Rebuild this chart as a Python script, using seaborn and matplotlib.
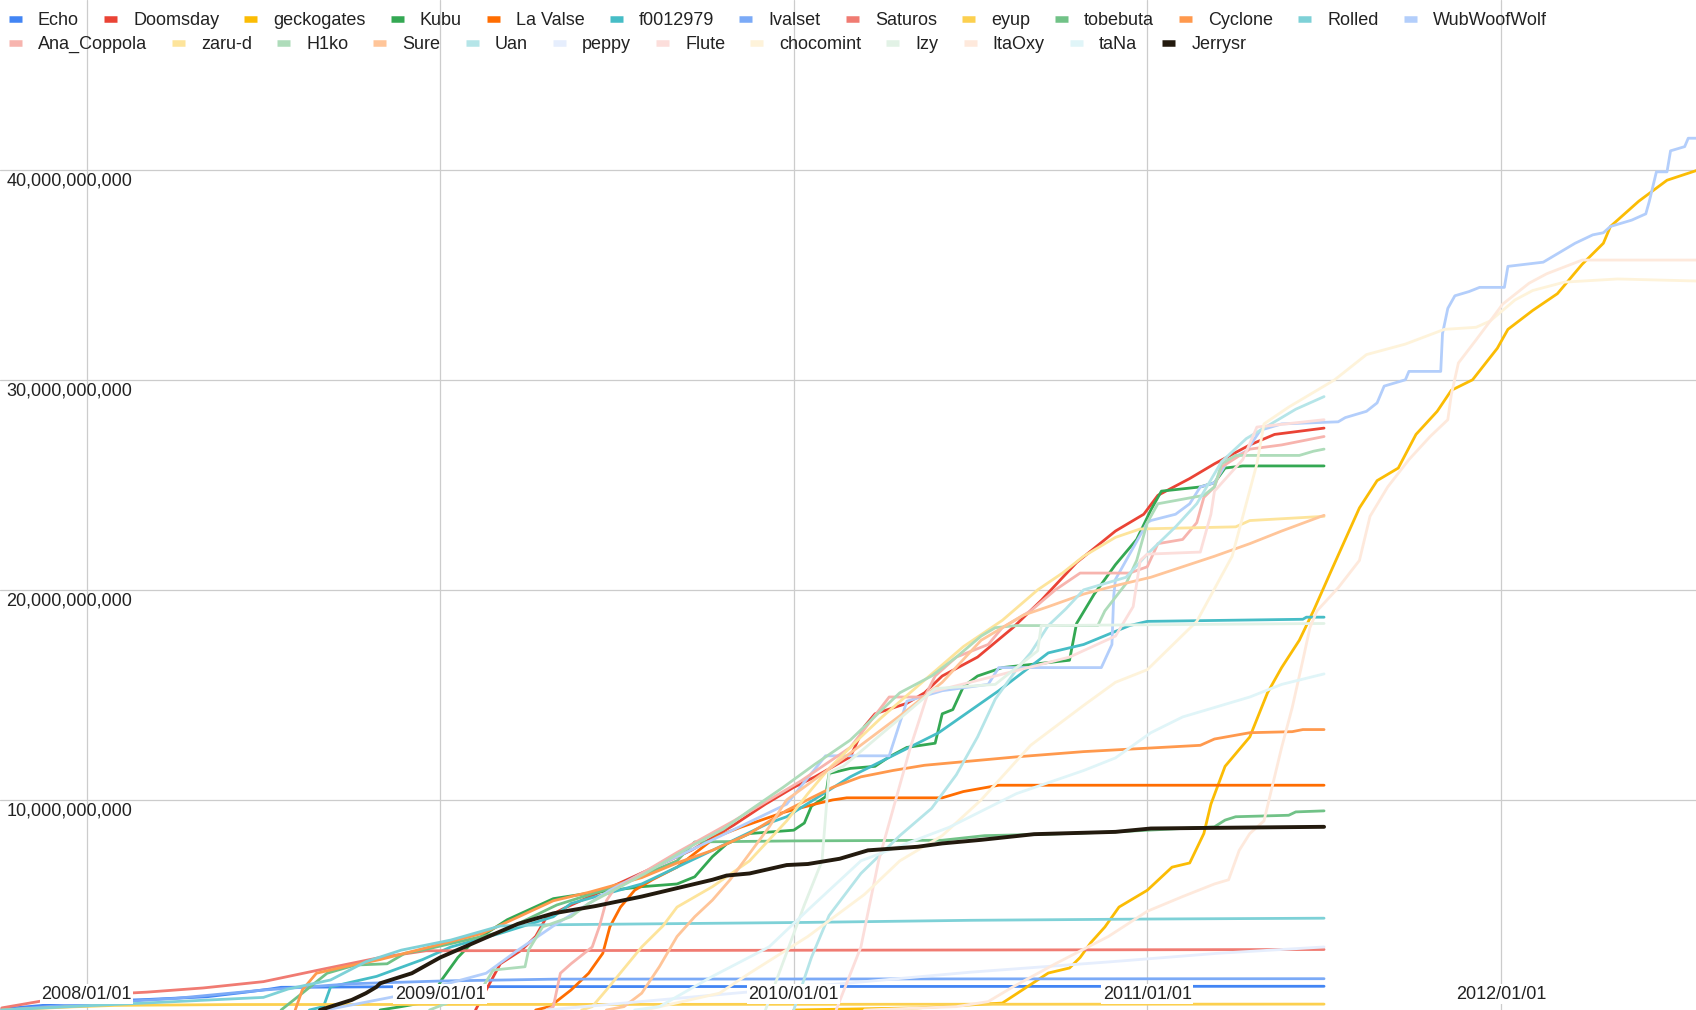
import numpy as np
import pandas as pd
import matplotlib
matplotlib.use("Agg")
import matplotlib.pyplot as plt
import seaborn as sns
from matplotlib.lines import Line2D

# ---------------- data (x = decimal year, y = value in billions) ----------------
names = ["Echo", "Doomsday", "geckogates", "Kubu", "La Valse", "f0012979", "Ivalset",
         "Saturos", "eyup", "tobebuta", "Cyclone", "Rolled", "WubWoofWolf",
         "Ana_Coppola", "zaru-d", "H1ko", "Sure", "Uan", "peppy", "Flute", "chocomint",
         "Izy", "ItaOxy", "taNa", "Jerrysr"]

colors = ["#4285F4", "#EA4335", "#FBBC04", "#34A853", "#FF6D01", "#46BDC6", "#7BAAF7",
          "#F07B72", "#FCD04F", "#71C287", "#FF994D", "#7ED1D7", "#B3CEFB",
          "#F7B4AE", "#FDE49B", "#AEDCBA", "#FFC599", "#B5E5E8", "#E6EEFD", "#FCDEDB",
          "#FEF3DA", "#E2F2E6", "#FEE9DC", "#E0F5F8", "#231A0E"]

echo = [(2007.76, 0.05), (2008.0, 0.4), (2008.17, 0.5), (2008.34, 0.63), (2008.45, 0.85),
        (2008.52, 1.0), (2008.55, 1.08), (2008.9, 1.11), (2011.5, 1.13)]
doomsday = [(2009.10, 0.0), (2009.13, 0.95), (2009.17, 2.2), (2009.23, 2.85), (2009.27, 3.5),
            (2009.30, 4.4), (2009.35, 4.84), (2009.45, 5.6), (2009.58, 6.6), (2009.71, 7.6),
            (2009.83, 8.8), (2009.92, 9.8), (2010.0, 10.6), (2010.06, 11.1), (2010.16, 12.05),
            (2010.20, 13.5), (2010.23, 14.1), (2010.32, 14.6), (2010.37, 15.1), (2010.42, 15.9),
            (2010.52, 16.8), (2010.62, 18.2), (2010.70, 19.5), (2010.80, 21.3), (2010.91, 22.8),
            (2010.99, 23.6), (2011.03, 24.5), (2011.12, 25.3), (2011.19, 26.0), (2011.29, 26.9),
            (2011.36, 27.4), (2011.5, 27.7)]
geckogates = [(2010.0, 0.0), (2010.35, 0.1), (2010.59, 0.33), (2010.66, 1.1), (2010.72, 1.76),
              (2010.78, 2.0), (2010.81, 2.5), (2010.84, 3.2), (2010.88, 3.95), (2010.92, 4.9),
              (2011.0, 5.7), (2011.07, 6.8), (2011.12, 7.0), (2011.16, 8.4), (2011.18, 9.8),
              (2011.22, 11.6), (2011.29, 13.0), (2011.34, 15.1), (2011.38, 16.3), (2011.43, 17.6),
              (2011.47, 19.0), (2011.52, 20.9), (2011.60, 23.9), (2011.65, 25.2), (2011.71, 25.8),
              (2011.76, 27.4), (2011.82, 28.5), (2011.86, 29.5), (2011.92, 30.0), (2011.99, 31.5),
              (2012.02, 32.4), (2012.09, 33.3), (2012.16, 34.1), (2012.23, 35.5), (2012.29, 36.5),
              (2012.31, 37.3), (2012.39, 38.5), (2012.47, 39.5), (2012.56, 40.0)]
kubu = [(2008.83, 0.0), (2008.89, 0.16), (2008.97, 0.4), (2009.004, 1.43), (2009.05, 2.5),
        (2009.09, 3.2), (2009.13, 3.65), (2009.19, 4.3), (2009.32, 5.3), (2009.42, 5.56),
        (2009.57, 5.87), (2009.67, 6.0), (2009.72, 6.34), (2009.77, 7.3), (2009.81, 7.9),
        (2009.875, 8.4), (2010.0, 8.56), (2010.03, 8.9), (2010.05, 9.7), (2010.09, 10.15),
        (2010.10, 11.26), (2010.16, 11.5), (2010.23, 11.6), (2010.27, 12.05), (2010.32, 12.5),
        (2010.40, 12.7), (2010.42, 14.1), (2010.45, 14.3), (2010.48, 15.4), (2010.52, 15.9),
        (2010.59, 16.3), (2010.78, 16.65), (2010.80, 18.4), (2010.85, 19.8), (2010.91, 21.2),
        (2010.97, 22.4), (2011.01, 23.8), (2011.04, 24.7), (2011.15, 24.9), (2011.19, 25.1),
        (2011.22, 25.8), (2011.27, 25.9), (2011.5, 25.9)]
la_valse = [(2009.27, 0.0), (2009.31, 0.16), (2009.37, 0.95), (2009.42, 1.75), (2009.46, 2.7),
            (2009.48, 3.96), (2009.51, 4.9), (2009.55, 5.7), (2009.60, 6.2), (2009.67, 6.8),
            (2009.78, 8.24), (2009.85, 8.7), (2009.97, 9.4), (2010.06, 9.8), (2010.11, 10.0),
            (2010.15, 10.1), (2010.42, 10.1), (2010.48, 10.4), (2010.58, 10.7), (2011.5, 10.7)]
f0012979 = [(2008.63, 0.0), (2008.67, 0.16), (2008.69, 1.1), (2008.82, 1.6), (2008.95, 2.4),
            (2009.03, 3.0), (2009.17, 3.65), (2009.32, 4.44), (2009.37, 5.07), (2009.57, 6.0),
            (2009.77, 7.6), (2009.93, 8.9), (2009.98, 9.2), (2010.16, 11.1), (2010.41, 13.2),
            (2010.58, 15.2), (2010.72, 17.0), (2010.82, 17.4), (2010.95, 18.3), (2011.0, 18.5),
            (2011.44, 18.6), (2011.45, 18.7), (2011.5, 18.7)]
ivalset = [(2007.76, 0.0), (2008.0, 0.3), (2008.25, 0.55), (2008.5, 0.95), (2008.75, 1.25),
           (2009.0, 1.38), (2009.33, 1.47), (2011.5, 1.49)]
saturos = [(2007.76, 0.1), (2007.88, 0.45), (2008.0, 0.7), (2008.17, 0.85), (2008.33, 1.05),
           (2008.5, 1.35), (2008.67, 1.95), (2008.83, 2.5), (2008.96, 2.82), (2011.5, 2.88)]
eyup = [(2007.76, 0.0), (2007.96, 0.15), (2008.08, 0.22), (2008.42, 0.26), (2011.5, 0.28)]
tobebuta = [(2008.55, 0.0), (2008.61, 0.8), (2008.68, 1.75), (2008.76, 2.14), (2008.85, 2.2),
            (2008.90, 2.7), (2008.95, 2.85), (2009.04, 3.2), (2009.17, 3.7), (2009.33, 5.0),
            (2009.5, 5.9), (2009.67, 7.1), (2009.72, 8.0), (2010.0, 8.05), (2010.42, 8.08),
            (2010.54, 8.3), (2010.72, 8.37), (2010.91, 8.48), (2011.19, 8.72), (2011.22, 9.04),
            (2011.25, 9.2), (2011.40, 9.27), (2011.42, 9.43), (2011.5, 9.48)]
cyclone = [(2008.59, 0.0), (2008.61, 0.95), (2008.65, 1.75), (2008.73, 2.06), (2008.83, 2.4),
           (2008.97, 3.0), (2009.12, 3.65), (2009.23, 4.5), (2009.32, 5.2), (2009.42, 5.6),
           (2009.57, 6.3), (2009.67, 7.0), (2009.77, 7.6), (2009.875, 8.4), (2009.98, 9.5),
           (2010.05, 10.1), (2010.11, 10.6), (2010.19, 11.1), (2010.28, 11.4), (2010.37, 11.65),
           (2010.63, 12.05), (2010.82, 12.3), (2011.15, 12.6), (2011.19, 12.9), (2011.29, 13.2),
           (2011.41, 13.25), (2011.44, 13.35), (2011.5, 13.35)]
rolled = [(2007.76, 0.0), (2008.0, 0.2), (2008.25, 0.4), (2008.5, 0.6), (2008.57, 1.0),
          (2008.69, 1.43), (2008.79, 2.3), (2008.89, 2.85), (2009.03, 3.33), (2009.17, 4.0),
          (2009.27, 4.05), (2010.04, 4.17), (2010.5, 4.27), (2011.0, 4.33), (2011.5, 4.37)]
wubwoofwolf = [(2008.66, 0.0), (2008.70, 0.08), (2008.92, 0.8), (2009.13, 1.75), (2009.22, 2.85),
               (2009.32, 4.0), (2009.48, 5.7), (2009.57, 6.5), (2009.77, 8.1), (2009.98, 9.8),
               (2010.09, 12.1), (2010.27, 12.1), (2010.32, 14.7), (2010.42, 15.2), (2010.55, 15.5),
               (2010.58, 16.3), (2010.87, 16.3), (2010.90, 17.4), (2010.905, 19.7), (2010.91, 20.5),
               (2011.0, 23.2), (2011.01, 23.3), (2011.08, 23.6), (2011.12, 24.1), (2011.15, 24.9),
               (2011.19, 25.1), (2011.23, 26.2), (2011.28, 26.6), (2011.32, 27.6), (2011.38, 27.9),
               (2011.54, 28.0), (2011.56, 28.2), (2011.62, 28.5), (2011.65, 28.9), (2011.67, 29.7),
               (2011.73, 30.0), (2011.74, 30.4), (2011.83, 30.4), (2011.835, 32.2), (2011.85, 33.4),
               (2011.87, 34.0), (2011.91, 34.2), (2011.94, 34.4), (2012.01, 34.4), (2012.02, 35.4),
               (2012.12, 35.6), (2012.17, 36.1), (2012.21, 36.5), (2012.26, 36.9), (2012.29, 37.0),
               (2012.31, 37.3), (2012.37, 37.6), (2012.41, 37.9), (2012.42, 38.5), (2012.44, 39.9),
               (2012.47, 39.9), (2012.48, 40.9), (2012.52, 41.1), (2012.53, 41.5), (2012.56, 41.5)]
ana_coppola = [(2009.30, 0.0), (2009.32, 0.16), (2009.34, 1.75), (2009.37, 2.2), (2009.43, 3.0),
               (2009.45, 3.96), (2009.47, 5.2), (2009.49, 5.7), (2009.57, 6.5), (2009.67, 7.5),
               (2009.83, 9.0), (2010.02, 10.9), (2010.16, 12.5), (2010.27, 14.9), (2010.37, 14.9),
               (2010.40, 15.9), (2010.46, 16.8), (2010.55, 17.4), (2010.59, 18.2), (2010.67, 19.0),
               (2010.74, 20.0), (2010.81, 20.8), (2010.95, 20.8), (2011.0, 21.1), (2011.03, 22.2),
               (2011.10, 22.4), (2011.14, 23.2), (2011.16, 24.4), (2011.19, 24.9), (2011.21, 25.85),
               (2011.29, 26.7), (2011.38, 26.9), (2011.44, 27.1), (2011.5, 27.3)]
zaru_d = [(2009.40, 0.0), (2009.43, 0.16), (2009.47, 0.95), (2009.57, 3.0), (2009.63, 4.0),
          (2009.67, 4.9), (2009.77, 5.87), (2009.875, 7.1), (2009.98, 9.0), (2010.04, 10.3),
          (2010.10, 11.5), (2010.19, 13.0), (2010.25, 13.95), (2010.37, 15.7), (2010.48, 17.3),
          (2010.59, 18.55), (2010.69, 20.0), (2010.76, 20.8), (2010.82, 21.6), (2010.91, 22.5),
          (2010.98, 22.9), (2011.25, 23.0), (2011.29, 23.3), (2011.5, 23.5)]
h1ko = [(2008.97, 0.0), (2009.03, 0.4), (2009.11, 0.8), (2009.15, 1.9), (2009.24, 2.06),
        (2009.25, 2.85), (2009.29, 3.96), (2009.37, 4.44), (2009.42, 5.07), (2009.58, 6.5),
        (2009.71, 7.8), (2009.8, 8.6), (2009.875, 9.5), (2009.97, 10.6), (2010.06, 11.7),
        (2010.16, 12.85), (2010.25, 14.3), (2010.30, 15.1), (2010.39, 15.9), (2010.46, 16.8),
        (2010.53, 17.8), (2010.57, 18.2), (2010.63, 18.3), (2010.86, 18.3), (2010.88, 19.0),
        (2010.94, 20.3), (2010.97, 21.4), (2011.0, 23.2), (2011.03, 24.1), (2011.16, 24.5),
        (2011.19, 24.9), (2011.21, 26.0), (2011.25, 26.4), (2011.43, 26.4), (2011.47, 26.6),
        (2011.5, 26.7)]
sure = [(2009.47, 0.0), (2009.52, 0.16), (2009.57, 0.8), (2009.62, 2.06), (2009.67, 3.5),
        (2009.72, 4.44), (2009.77, 5.23), (2009.82, 6.2), (2009.875, 7.45), (2009.93, 8.7),
        (2009.98, 10.0), (2010.11, 11.6), (2010.30, 14.0), (2010.42, 15.6), (2010.53, 17.6),
        (2010.65, 18.8), (2010.72, 19.2), (2010.82, 19.8), (2010.91, 20.2), (2011.01, 20.6),
        (2011.10, 21.1), (2011.19, 21.6), (2011.29, 22.2), (2011.38, 22.8), (2011.5, 23.55)]
uan = [(2010.0, 0.0), (2010.05, 2.5), (2010.10, 4.5), (2010.19, 6.5), (2010.30, 8.3),
       (2010.39, 9.6), (2010.46, 11.2), (2010.52, 13.0), (2010.57, 14.8), (2010.63, 16.2),
       (2010.67, 17.0), (2010.72, 18.3), (2010.77, 19.1), (2010.82, 20.0), (2010.94, 20.6),
       (2011.0, 21.7), (2011.08, 23.0), (2011.14, 24.1), (2011.21, 26.1), (2011.28, 27.2),
       (2011.38, 28.2), (2011.42, 28.6), (2011.5, 29.2)]
peppy = [(2009.30, 0.0), (2009.7, 0.6), (2010.1, 1.2), (2010.5, 1.8), (2010.9, 2.3),
         (2011.2, 2.7), (2011.5, 3.0)]
flute = [(2010.12, 0.0), (2010.19, 3.0), (2010.24, 7.1), (2010.33, 12.5), (2010.38, 15.1),
         (2010.57, 15.9), (2010.78, 16.8), (2010.91, 17.8), (2010.96, 19.2), (2010.98, 21.4),
         (2011.0, 21.7), (2011.15, 21.8), (2011.18, 23.6), (2011.19, 24.7), (2011.27, 26.2),
         (2011.31, 27.75), (2011.5, 28.1)]
chocomint = [(2009.58, 0.0), (2009.79, 0.8), (2009.875, 1.75), (2010.04, 3.5), (2010.2, 5.5),
             (2010.30, 7.1), (2010.42, 8.3), (2010.53, 10.0), (2010.67, 12.6), (2010.82, 14.5),
             (2010.91, 15.6), (2011.0, 16.2), (2011.14, 18.5), (2011.24, 21.6), (2011.31, 26.0),
             (2011.33, 27.9), (2011.40, 28.7), (2011.53, 30.0), (2011.62, 31.2), (2011.73, 31.7),
             (2011.84, 32.4), (2011.93, 32.5), (2011.97, 32.8), (2012.04, 33.8), (2012.09, 34.25),
             (2012.18, 34.65), (2012.33, 34.8), (2012.56, 34.7)]
izy = [(2009.92, 0.0), (2010.03, 5.0), (2010.08, 7.1), (2010.10, 11.3), (2010.14, 11.6),
       (2010.40, 15.3), (2010.57, 15.5), (2010.69, 17.1), (2010.70, 18.3), (2011.5, 18.4)]
itaoxy = [(2010.2, 0.0), (2010.46, 0.16), (2010.55, 0.4), (2010.62, 1.1), (2010.74, 2.2),
          (2010.89, 3.5), (2011.0, 4.7), (2011.10, 5.4), (2011.19, 6.0), (2011.23, 6.2),
          (2011.26, 7.6), (2011.29, 8.4), (2011.33, 9.0), (2011.36, 11.1), (2011.38, 12.5),
          (2011.41, 14.4), (2011.44, 16.65), (2011.46, 18.2), (2011.48, 19.0), (2011.54, 20.1),
          (2011.60, 21.4), (2011.63, 23.5), (2011.68, 24.9), (2011.74, 26.2), (2011.80, 27.3),
          (2011.85, 28.1), (2011.86, 29.3), (2011.88, 30.8), (2011.93, 31.9), (2011.97, 32.8),
          (2012.005, 33.6), (2012.08, 34.6), (2012.13, 35.05), (2012.23, 35.7), (2012.56, 35.7)]
tana = [(2009.55, 0.0), (2009.62, 0.16), (2009.77, 1.6), (2009.93, 3.0), (2010.04, 4.76),
        (2010.19, 7.1), (2010.44, 8.7), (2010.63, 10.3), (2010.82, 11.4), (2010.91, 12.0),
        (2011.01, 13.2), (2011.10, 13.95), (2011.19, 14.4), (2011.29, 14.9), (2011.38, 15.5),
        (2011.5, 16.0)]
jerrysr = [(2008.66, 0.0), (2008.75, 0.48), (2008.79, 0.8), (2008.82, 1.1), (2008.83, 1.27),
           (2008.92, 1.75), (2009.0, 2.5), (2009.13, 3.45), (2009.22, 4.1), (2009.32, 4.6),
           (2009.44, 4.95), (2009.57, 5.4), (2009.67, 5.8), (2009.77, 6.2), (2009.81, 6.4),
           (2009.875, 6.5), (2009.98, 6.9), (2010.04, 6.95), (2010.13, 7.2), (2010.21, 7.6),
           (2010.35, 7.77), (2010.42, 7.93), (2010.53, 8.1), (2010.68, 8.37), (2010.91, 8.48),
           (2011.01, 8.64), (2011.18, 8.67), (2011.5, 8.72)]

series_points = [echo, doomsday, geckogates, kubu, la_valse, f0012979, ivalset, saturos, eyup,
                 tobebuta, cyclone, rolled, wubwoofwolf, ana_coppola, zaru_d, h1ko, sure, uan,
                 peppy, flute, chocomint, izy, itaoxy, tana, jerrysr]

x_ticks = [2008, 2009, 2010, 2011, 2012]
x_labels = ["2008/01/01", "2009/01/01", "2010/01/01", "2011/01/01", "2012/01/01"]
y_ticks = [10e9, 20e9, 30e9, 40e9]

# ---------------- build long table ----------------
frames = []
for name, pts in zip(names, series_points):
    d = pd.DataFrame(pts, columns=["year", "value"])
    d["value"] = d["value"] * 1e9
    d["player"] = name
    frames.append(d)
data = pd.concat(frames, ignore_index=True)

# ---------------- plotting ----------------
sns.set_theme(style="white")
plt.rcParams["font.family"] = ["Liberation Sans", "DejaVu Sans"]

W, H = 1696, 1010
XMIN, XMAX = 2007.755, 2012.552
YMAX = 48.08e9
fig = plt.figure(figsize=(W / 100, H / 100), dpi=100)
ax = fig.add_axes([0, 0, 1, 1])
ax.set_axisbelow(True)

for name, color in zip(names, colors):
    sub = data[data["player"] == name]
    lw = 2.8 if name == "Jerrysr" else 2.0
    sns.lineplot(data=sub, x="year", y="value", color=color, lw=lw, ax=ax,
                 sort=False, estimator=None, legend=False)

ax.set_xlim(XMIN, XMAX)
ax.set_ylim(0, YMAX)
ax.set_xlabel("")
ax.set_ylabel("")
for s in ax.spines.values():
    s.set_visible(False)

# gridlines from major ticks, y labels on minor ticks just below each gridline
ax.set_xticks(x_ticks)
ax.set_yticks(y_ticks)
ax.grid(True, which="major", color="#cccccc", lw=0.9)
ax.tick_params(axis="x", which="both", length=0, labelbottom=False)
label_shift = 3.0 * YMAX / H
ax.set_yticks([v - label_shift for v in y_ticks], [f"{int(v):,}" for v in y_ticks],
              minor=True, ha="left", va="top", fontsize=13, color="#222222")
ax.tick_params(axis="y", which="major", length=0, labelleft=False)
ax.tick_params(axis="y", which="minor", length=0, pad=-4.7)

# overlay axis carrying the date labels (white box, above the lines)
ax2 = fig.add_axes([0, 0, 1, 1], sharex=ax)
ax2.set_zorder(ax.get_zorder() + 1)
ax2.patch.set_visible(False)
for s in ax2.spines.values():
    s.set_visible(False)
ax2.set_yticks([])
ax2.grid(False)
ax2.set_xticks(x_ticks, x_labels, va="center", fontsize=13, color="#222222",
               bbox=dict(facecolor="white", edgecolor="none", pad=1.0))
ax2.tick_params(axis="x", length=0, pad=-11.5)
ax2.set_xlim(XMIN, XMAX)

# ---------------- legend (two flowing rows) ----------------
def make_handles(cols):
    return [Line2D([0], [0], color=c, lw=4.7, solid_capstyle="butt") for c in cols]

common = dict(frameon=False, fontsize=13, handlelength=0.72, handletextpad=0.9,
              columnspacing=1.38, borderpad=0, borderaxespad=0, labelcolor="#222222",
              loc="center left")
fig.legend(make_handles(colors[:13]), names[:13], ncol=13,
           bbox_to_anchor=(8.6 / W, 1 - 20.4 / H), **common)
fig.legend(make_handles(colors[13:]), names[13:], ncol=12,
           bbox_to_anchor=(8.6 / W, 1 - 44.6 / H), **common)

fig.savefig("out.png", dpi=100)
